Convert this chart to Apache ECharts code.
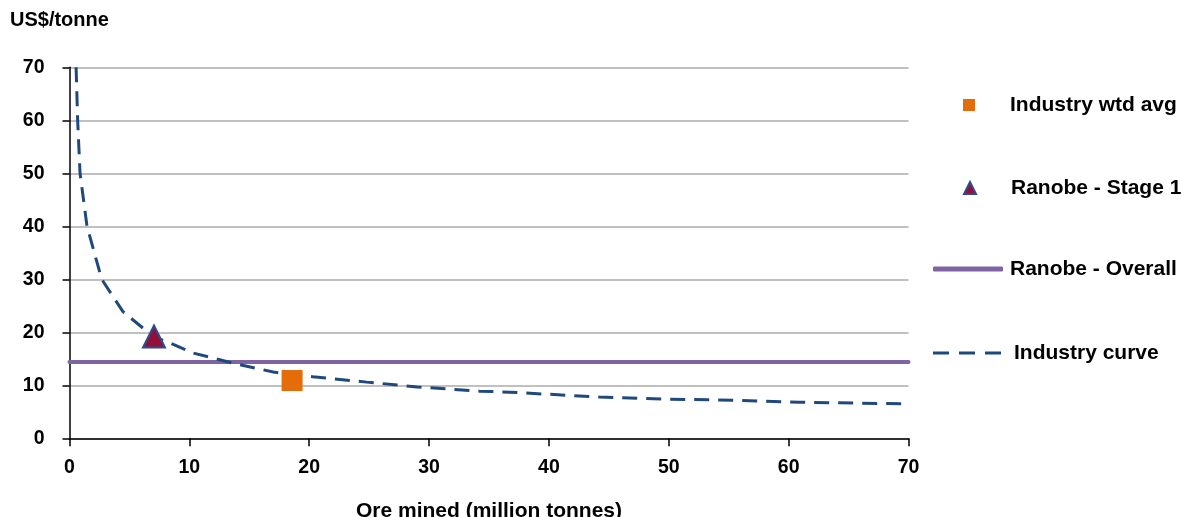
<!DOCTYPE html>
<html>
<head>
<meta charset="utf-8">
<script src="https://cdn.jsdelivr.net/npm/echarts@6/dist/echarts.min.js"></script>
<style>html,body{margin:0;padding:0;background:#fff;}#c{width:1182px;height:517px;}</style>
</head>
<body>
<div id="c"></div>
<script>
// Data
var curveX = [0.55, 0.68, 0.88, 1.46, 2.69, 4.46, 6.99, 8.38, 10.3, 13.6, 17.0, 20.3, 24.8, 29.0, 34.2, 36.7, 44.2, 49.8, 55.3, 60.9, 69.8];
var curveY = [70, 60, 50, 40, 30, 23.9, 19.2, 18.0, 16.1, 14.2, 12.5, 11.6, 10.6, 9.7, 8.9, 8.7, 7.8, 7.4, 7.2, 6.8, 6.5];
var wtdAvg = [18.57, 10.9];
var stage1 = [7.05, 19.2];
var overallX = [0, 70];
var overallY = [14.4, 14.4];
var seriesNames = ['Industry wtd avg', 'Ranobe - Stage 1', 'Ranobe - Overall', 'Industry curve'];
var yTitle = 'US$/tonne';
var xTitle = 'Ore mined (million tonnes)';

var FONT = '"Liberation Sans", Arial, sans-serif';
var curveData = curveX.map(function (x, i) { return [x, curveY[i]]; });
var overallData = overallX.map(function (x, i) { return [x, overallY[i]]; });

var legendText = { fontFamily: FONT, fontSize: 21, fontWeight: 'bold', color: '#000' };
function makeLegend(opts) {
  return {
    orient: 'vertical', padding: 0, data: [opts.item],
    itemWidth: opts.w, itemHeight: opts.h, left: opts.left, top: opts.top,
    selectedMode: false,
    textStyle: Object.assign({}, legendText, { padding: [0, 0, 0, opts.pad || 0] })
  };
}

var chart = echarts.init(document.getElementById('c'));
chart.setOption({
  animation: false,
  backgroundColor: '#fff',
  title: {
    text: yTitle, left: 10, top: 10, padding: 0,
    textStyle: { fontFamily: FONT, fontSize: 20, fontWeight: 'bold', color: '#000' }
  },
  legend: [
    makeLegend({ w: 12, h: 12, left: 963, top: 94.5, pad: 30, item: { name: seriesNames[0], icon: 'rect' } }),
    makeLegend({ w: 12, h: 12, left: 963, top: 177.5, pad: 30, item: { name: seriesNames[1], icon: 'triangle' } }),
    makeLegend({ w: 70, h: 5, left: 933, top: 258.5, pad: 2, item: { name: seriesNames[2], icon: 'roundRect' } }),
    makeLegend({ w: 70, h: 3, left: 933, top: 342.5, pad: 7,
      item: { name: seriesNames[3], icon: 'path://M0,0h16v3h-16z M26,0h16v3h-16z M52,0h16v3h-16z' } })
  ],
  grid: { left: 69.5, right: 273.5, top: 67.3, bottom: 78.7, containLabel: false, outerBoundsMode: 'none' },
  xAxis: {
    type: 'value', min: 0, max: 70, interval: 10,
    name: xTitle, nameLocation: 'middle', nameGap: 62,
    nameTextStyle: { fontFamily: FONT, fontSize: 21, fontWeight: 'bold', color: '#000' },
    axisLine: { show: true, lineStyle: { color: '#000', width: 1.5 } },
    axisTick: { show: true, length: 8, lineStyle: { color: '#000', width: 1.5 } },
    axisLabel: { fontFamily: FONT, fontSize: 19.5, fontWeight: 'bold', color: '#000', margin: 19 },
    splitLine: { show: false }
  },
  yAxis: {
    type: 'value', min: 0, max: 70, interval: 10,
    axisLine: { show: true, lineStyle: { color: '#000', width: 1.5 } },
    axisTick: { show: true, length: 7, lineStyle: { color: '#000', width: 1.5 } },
    axisLabel: { fontFamily: FONT, fontSize: 19.5, fontWeight: 'bold', color: '#000', margin: 25 },
    splitLine: { show: true, lineStyle: { color: '#c0c0c0', width: 2 } }
  },
  series: [
    {
      name: seriesNames[2], type: 'line', data: overallData,
      symbol: 'none', showSymbol: false,
      lineStyle: { color: '#8064A2', width: 4, cap: 'round' },
      itemStyle: { color: '#8064A2' }, z: 2
    },
    {
      name: seriesNames[3], type: 'line', data: curveData,
      symbol: 'none', showSymbol: false,
      lineStyle: { color: '#1F497D', width: 3, type: [15, 9] },
      itemStyle: { color: '#1F497D' }, z: 3
    },
    {
      name: seriesNames[0], type: 'scatter', data: [wtdAvg],
      symbol: 'rect', symbolSize: 21,
      itemStyle: { color: '#E46C0A', opacity: 1 }, z: 4
    },
    {
      name: seriesNames[1], type: 'scatter', data: [stage1],
      symbol: 'triangle', symbolSize: 22,
      itemStyle: { color: '#921038', borderColor: '#2B4D8F', borderWidth: 2, opacity: 1 }, z: 5
    }
  ]
});
</script>
</body>
</html>
